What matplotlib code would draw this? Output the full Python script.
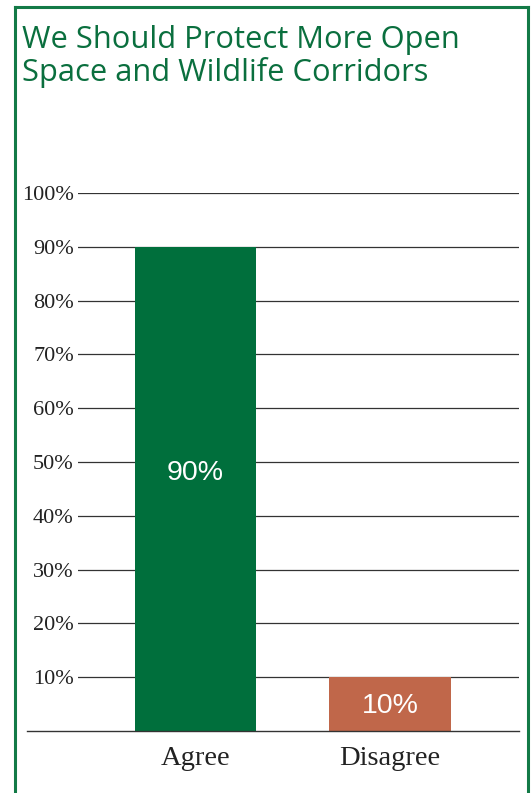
import matplotlib.pyplot as plt
from matplotlib.lines import Line2D

# data
categories = ['Agree', 'Disagree']
values = [90, 10]
bar_labels = ['90%', '10%']
yticks = [10, 20, 30, 40, 50, 60, 70, 80, 90, 100]
ytick_labels = ['%d%%' % t for t in yticks]
title_lines = ['We Should Protect More Open', 'Space and Wildlife Corridors']

green = '#006f3c'
rust = '#c0674a'
frame_green = '#137a47'

W, H = 532, 793
fig = plt.figure(figsize=(W / 100, H / 100), dpi=100)

# axes box in pixel coords: x 78..519, y 193 (100%) .. 731 (0%)
left, right, top, bottom = 78, 519, 193, 731
ax = fig.add_axes([left / W, 1 - bottom / H, (right - left) / W, (bottom - top) / H])

x = [0, 1]
for yv in yticks:
    ax.axhline(yv, color='#333333', lw=0.9, zorder=1)
# baseline runs further left than the gridlines
ax.axhline(0, xmin=(27 - left) / (right - left), xmax=1, color='#333333', lw=1.0,
           clip_on=False, zorder=3)

bars = ax.bar(x, values, width=0.625, color=[green, rust], zorder=2)
label_frac = [0.533, 0.46]  # labels sit a bit off the bar middle
for b, lab, fr in zip(bars, bar_labels, label_frac):
    ax.text(b.get_x() + b.get_width() / 2, b.get_height() * fr, lab,
            ha='center', va='center', color='white', fontsize=20.5,
            family='Liberation Sans', zorder=4)

ax.set_xlim(-0.603, 1.662)
ax.set_ylim(0, 100)
ax.set_yticks(yticks)
ax.set_yticklabels(ytick_labels, family='Liberation Serif', fontsize=16, color='#222222')
ax.set_xticks(x)
ax.set_xticklabels(categories, family='Liberation Serif', fontsize=20.5, color='#222222')
ax.tick_params(axis='y', length=0, pad=3)
ax.tick_params(axis='x', length=0, pad=11)
for s in ax.spines.values():
    s.set_visible(False)

# title, two lines placed by their baselines
for line, base in zip(title_lines, [48, 81]):
    fig.text(22 / W, 1 - base / H, line, ha='left', va='baseline',
             color='#0a6f3e', fontsize=22.2, family='Open Sans')

# green frame (no bottom edge visible)
fx0, fx1, fy0 = 14.5 / W, 528 / W, 1 - 6.5 / H
for xs, ys in [([fx0, fx0], [0, fy0]), ([fx0, fx1], [fy0, fy0]), ([fx1, fx1], [fy0, 0])]:
    fig.add_artist(Line2D(xs, ys, color=frame_green, lw=2.2, transform=fig.transFigure))

fig.savefig('out.png', dpi=100, facecolor='white')
